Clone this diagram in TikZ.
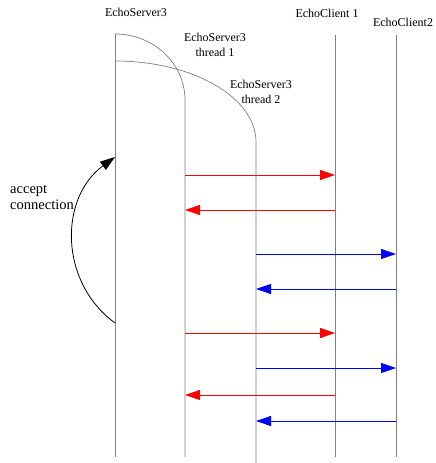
\documentclass[tikz,border=0pt]{standalone}
\usepackage{fontspec}
\setmainfont{Liberation Serif}
\usetikzlibrary{arrows.meta}

\begin{document}
\begin{tikzpicture}[
    x=1pt,y=-1pt,
    lbl/.style={inner sep=0pt,align=center,font=\fontsize{12}{15}\selectfont},
    life/.style={gray,line width=0.7pt},
    msg/.style={-{Triangle[length=15pt,width=10pt]},line width=0.9pt},
    acc/.style={-{Triangle[length=15pt,width=10pt]},black,line width=0.8pt}
  ]
    \useasboundingbox (0,0) rectangle (436,463);

    \coordinate (srv)    at (115,34);
    \coordinate (fork)   at (115,61);
    \coordinate (srvend) at (115,457);
    \coordinate (th1)    at (185,100);
    \coordinate (th1end) at (185,457);
    \coordinate (th2)    at (256,142);
    \coordinate (th2end) at (256,463);
    \coordinate (cl1)    at (335,35);
    \coordinate (cl1end) at (335,457);
    \coordinate (cl2)    at (396,35);
    \coordinate (cl2end) at (396,457);

    \node[lbl] (srvlbl) at (136,12)  {EchoServer3};
    \node[lbl] (th1lbl) at (215,45)  {EchoServer3\\thread 1};
    \node[lbl] (th2lbl) at (261,92)  {EchoServer3\\thread 2};
    \node[lbl] (cl1lbl) at (327,13)  {EchoClient 1};
    \node[lbl] (cl2lbl) at (403,22)  {EchoClient2};

    \draw[life] (srv) -- (srvend);
    \draw[life] (srv) .. controls (153.7,34) and (185,63.5) .. (th1) -- (th1end);
    \draw[life] (fork) .. controls (192.9,61) and (256,97.3) .. (th2) -- (th2end);
    \draw[life] (cl1) -- (cl1end);
    \draw[life] (cl2) -- (cl2end);

    \foreach \y/\a/\b/\c in {175/th1/cl1/red, 210/cl1/th1/red,
                             254/th2/cl2/blue, 289/cl2/th2/blue,
                             333/th1/cl1/red, 368/th2/cl2/blue,
                             395/cl1/th1/red, 421/cl2/th2/blue}
      \draw[msg,\c] (\a |- 0,\y) -- (\b |- 0,\y);

    \coordinate (accfrom) at (115,323);
    \coordinate (accto)   at (115,157);
    \draw[acc] (accfrom) .. controls (59,282) and (59,198) .. (accto);
    \node[lbl,align=left,anchor=west,font=\fontsize{14.5}{16}\selectfont]
      (acclbl) at (10,197) {accept\\connection};
  \end{tikzpicture}
\end{document}
